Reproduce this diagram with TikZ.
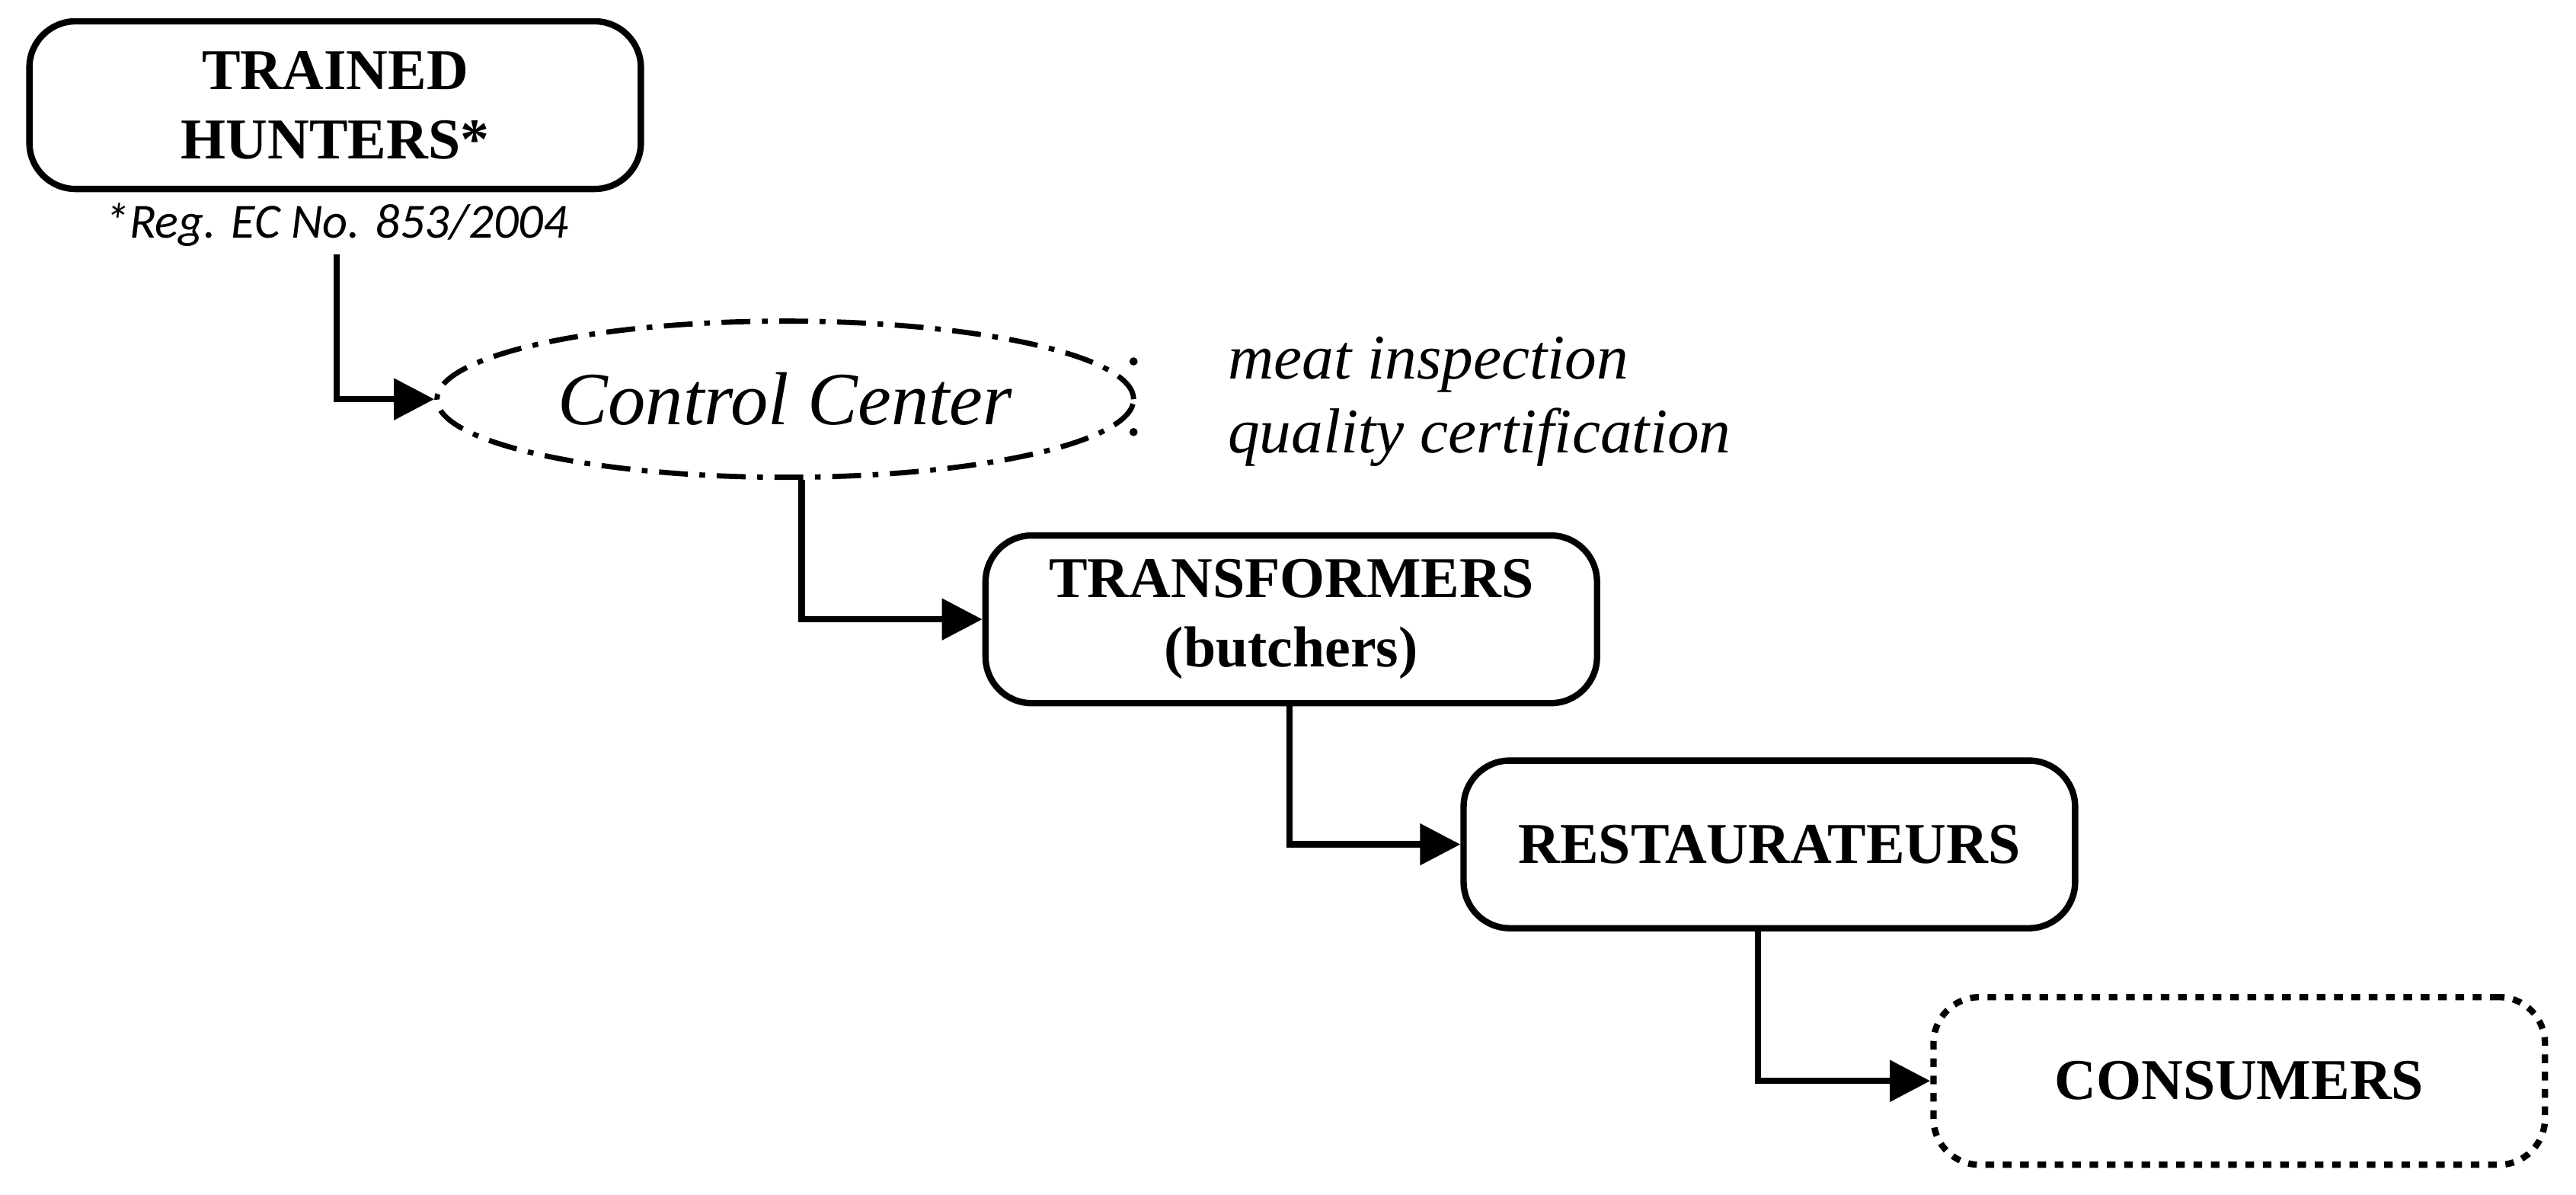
\documentclass[tikz,border=0pt]{standalone}
\usepackage{fontspec}
\setmainfont{Liberation Serif}
\newfontfamily\calib{Carlito}
\usetikzlibrary{shapes.geometric,arrows.meta}
\begin{document}
\begin{tikzpicture}[x=0.01cm,y=-0.01cm,
 box/.style={draw,line width=1.1pt,rounded corners=8pt,minimum width=3.72cm,minimum height=1.02cm,align=center,font=\bfseries\fontsize{10}{12}\selectfont},
 conn/.style={line width=1.1pt,-{Triangle[length=7pt,width=7pt]}}]
\useasboundingbox (0,0) rectangle (1568,727);
\node[box] (th) at (204,64) {TRAINED\\HUNTERS*};
\node[font=\calib\itshape\fontsize{8.5}{10}\selectfont] (fn) at (205,137) {*Reg. EC No. 853/2004};
\node[draw,ellipse,line width=0.9pt,dash pattern=on 5pt off 2pt on 1pt off 2pt,minimum width=3.2cm,minimum height=0.95cm,font=\itshape\fontsize{13}{15}\selectfont] (cc) at (478,243) {Control Center};
\node[anchor=west,font=\itshape\fontsize{11}{13}\selectfont] (b1) at (735,222) {meat inspection};
\node[anchor=west,font=\itshape\fontsize{11}{13}\selectfont] (b2) at (735,266) {quality certification};
\fill (690,220) circle (2.5);
\fill (690,263) circle (2.5);
\node[box] (tr) at (786,377) {TRANSFORMERS\\(butchers)};
\node[box] (re) at (1077,514) {RESTAURATEURS};
\node[box,dash pattern=on 1.5pt off 1.5pt] (co) at (1363,658) {CONSUMERS};
\coordinate (a1) at (205,155);
\draw[conn] (a1) |- (cc.west);
\draw[conn] (cc.south -| 488,0) |- (tr.west);
\draw[conn] (tr.south -| 785,0) |- (re.west);
\draw[conn] (re.south -| 1070,0) |- (co.west);
\end{tikzpicture}
\end{document}
